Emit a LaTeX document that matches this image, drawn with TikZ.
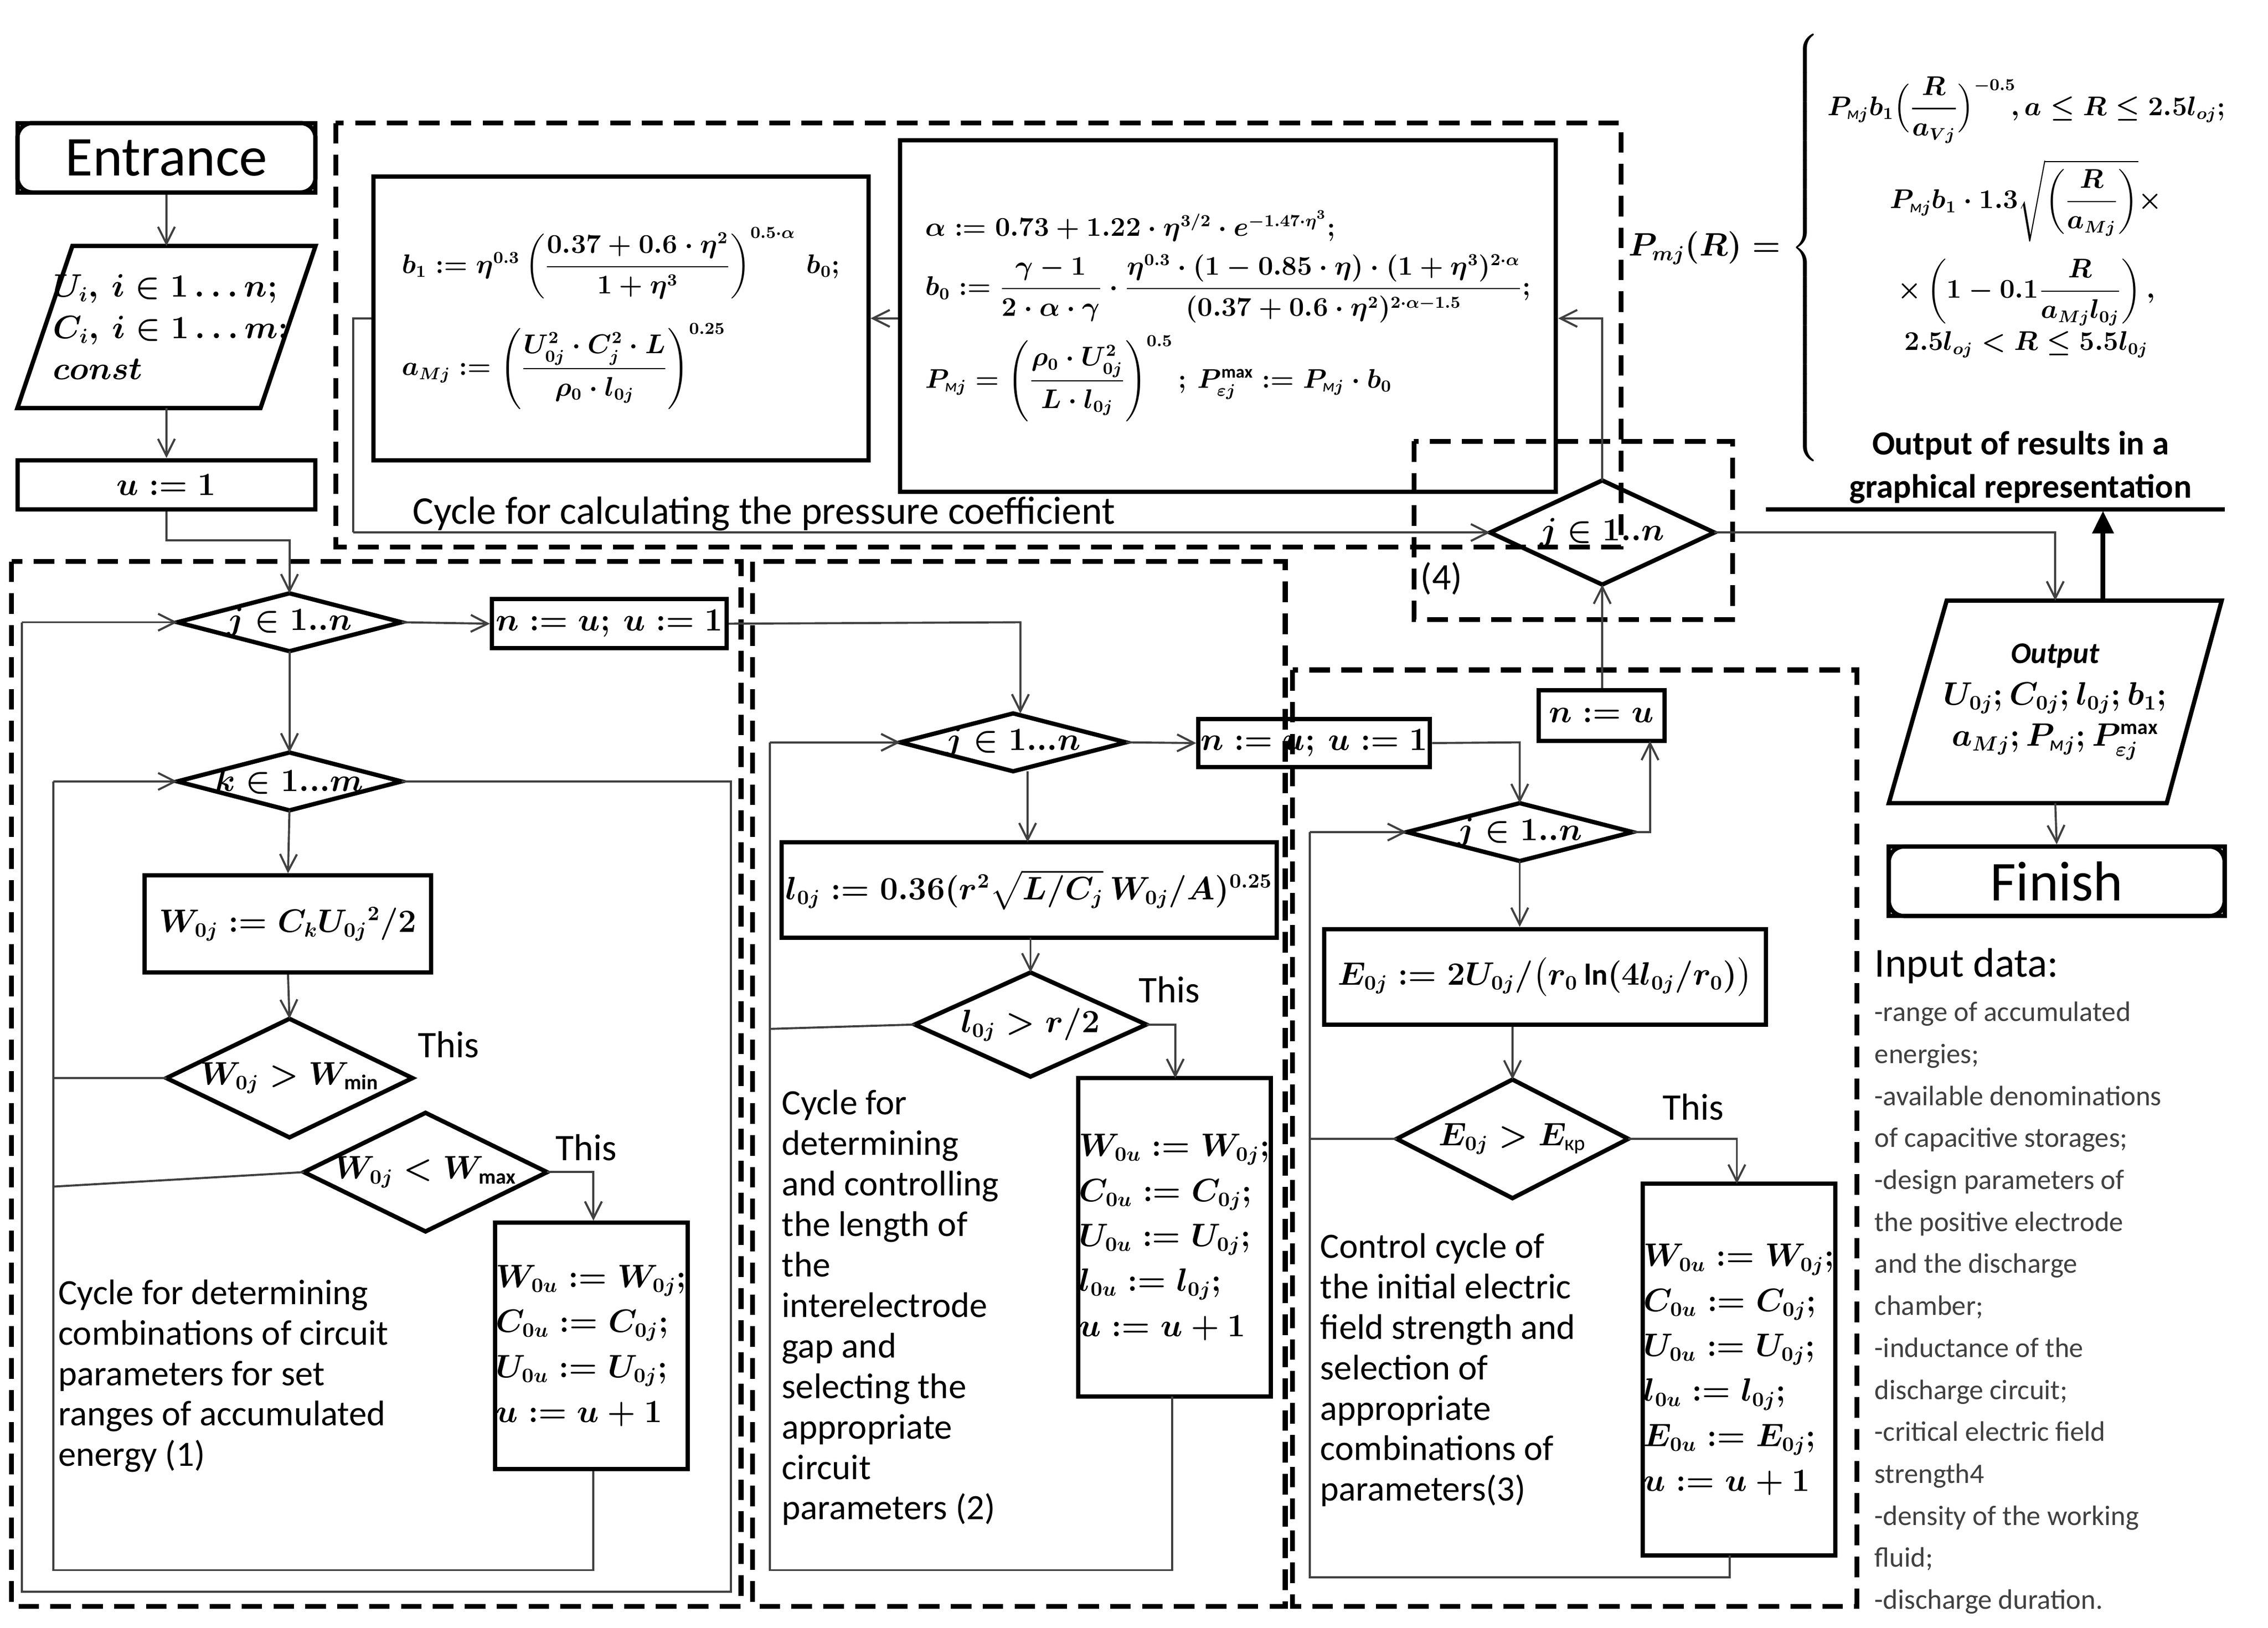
\documentclass[tikz,border=0pt]{standalone}
\usepackage{amsmath}
\usepackage{fontspec}
\setmainfont{Carlito}
\usetikzlibrary{calc,arrows.meta,fit}
\newcommand\mM{\text{\itshape м}}
\newcommand\dia[6]{%
 \node[inner sep=0,font=\mfont] (#1) at (#2,#3) {#6};
 \coordinate (#1-l) at ({#2-#4/2},#3);
 \coordinate (#1-r) at ({#2+#4/2},#3);
 \coordinate (#1-t) at (#2,{#3-#5/2});
 \coordinate (#1-b) at (#2,{#3+#5/2});
 \draw[box] (#1-l)--(#1-t)--(#1-r)--(#1-b)--cycle;}
\newcommand\bx[7]{%
 \node[box,fit={(#2,#3)(#4,#5)}] (#1) {};
 \node[inner sep=0,#6] (#1-txt) at (#1.center) {#7};}
\newcommand\mfont{\fontsize{16}{20}\selectfont\boldmath}
\newcommand\sfont{\fontsize{13.5}{17}\selectfont\boldmath}
\begin{document}
\begin{tikzpicture}[x=0.02713cm,y=-0.02713cm,
 box/.style={draw,line width=2.3pt,inner sep=0pt},
 conn/.style={line width=1.1pt,draw=black!75},
 arr/.style={conn,-{Straight Barb[length=9pt,width=9pt]}},
 dsh/.style={line width=2.6pt,dash pattern=on 11pt off 6pt},
 txt/.style={font=\fontsize{19}{21.6}\selectfont,align=left,inner sep=0,anchor=north west},
 mt/.style={font=\mfont,align=left},
 st/.style={font=\sfont,align=left}]
\useasboundingbox (0,0) rectangle (1567,1125);
% dashed frames
\draw[dsh] (232,85) rectangle (1120,378);
\draw[dsh] (8,388) rectangle (512,1110);
\draw[dsh] (520,388) rectangle (888,1110);
\draw[dsh] (893,463) rectangle (1283,1110);
\draw[dsh] (977,305) rectangle (1197,428);
% entrance etc
\bx{ent}{12}{85}{218}{133}{font=\fontsize{30}{32}\selectfont}{Entrance}
\draw[box,rounded corners=8pt] (12,85) rectangle (218,133);
\draw[box] (50,170)--(218,170)--(180,282)--(12,282)--cycle;
\coordinate (inpt) at (115,170); \coordinate (inpb) at (115,282);
\node[font=\mfont,align=left] (inp) at (118,226) {$U_i,\ i\in1\ldots n;$\\[2pt]$C_i,\ i\in1\ldots m;$\\[2pt]$const$};
\bx{u1}{12}{318}{218}{352}{mt}{$u:=1$}
\draw[arr] (ent.south) -- (inpt);
\draw[arr] (inpb) -- (u1.north);
% section 1
\dia{d1}{200}{430}{155}{40}{$j\in1..n$}
\dia{dk}{200}{540}{155}{40}{$k\in1...m$}
\draw[arr] (u1.south) -- ++(0,20) -| (d1-t);
\bx{nu1}{340}{414}{502}{448}{mt}{$n:=u;\ u:=1$}
\draw[arr] (d1-r) -- (nu1.west);
\draw[arr] (d1-b) -- (dk-t);
\draw[conn] (dk-r) -- (505,540) -- (505,1100) -- (15,1100) -- (15,430);
\draw[arr] (15,430) -- (d1-l);
\bx{w1}{100}{605}{298}{672}{mt}{$W_{0j}:=C_kU_{0j}{}^2/2$}
\draw[arr] (dk-b) -- (w1.north);
\dia{dmin}{200}{745}{170}{82}{$W_{0j}>W_{\min}$}
\dia{dmax}{294}{810}{168}{82}{$W_{0j}<W_{\max}$}
\draw[arr] (w1.south) -- (dmin-t);
\bx{a1}{342}{845}{475}{1015}{mt}{$W_{0u}:=W_{0j};$\\[4pt]$C_{0u}:=C_{0j};$\\[4pt]$U_{0u}:=U_{0j};$\\[4pt]$u:=u+1$}
\draw[conn] (a1.south -| 410,0) -- (410,1085) -- (37,1085) -- (37,540);
\draw[arr] (37,540) -- (dk-l);
\draw[conn] (dmin-l) -- (37,745);
\draw[conn] (dmax-l) -- (37,820);
\draw[arr] (dmax-r) -- (410,810) -- (a1.north -| 410,0);
\node[font=\fontsize{20}{22}\selectfont] at (310,722) {This};
\node[font=\fontsize{20}{22}\selectfont] at (405,793) {This};
\node[txt] at (40,884) {Cycle for determining\\combinations of circuit\\parameters for set\\ranges of accumulated\\energy (1)};
% section 2
\dia{d2}{700}{513}{156}{40}{$j\in1...n$}
\draw[arr] (nu1.east) -- (705,430) -- (705,493);
\bx{nu2}{828}{497}{988}{530}{mt}{$n:=u;\ u:=1$}
\draw[arr] (d2-r) -- (nu2.west);
\bx{l1}{540}{582}{882}{648}{mt}{$l_{0j}:=0.36(r^2\sqrt{L/C_j}\,W_{0j}/A)^{0.25}$}
\draw[arr] (710,533) -- (710,582);
\dia{dl}{712}{708}{160}{72}{$l_{0j}>r/2$}
\draw[arr] (712,648) -- (dl-t);
\bx{a2}{745}{745}{878}{965}{mt}{$W_{0u}:=W_{0j};$\\[4pt]$C_{0u}:=C_{0j};$\\[4pt]$U_{0u}:=U_{0j};$\\[4pt]$l_{0u}:=l_{0j};$\\[4pt]$u:=u+1$}
\draw[arr] (dl-r) -- (812,708) -- (812,745);
\node[font=\fontsize{20}{22}\selectfont] at (808,684) {This};
\draw[conn] (810,965) -- (810,1085) -- (532,1085) -- (532,513);
\draw[arr] (532,513) -- (d2-l);
\draw[conn] (dl-l) -- (532,711);
\node[txt] at (540,753) {Cycle for\\determining\\and controlling\\the length of\\the\\interelectrode\\gap and\\selecting the\\appropriate\\circuit\\parameters (2)};
% section 3
\dia{d3}{1050}{575}{156}{40}{$j\in1..n$}
\draw[arr] (nu2.east) -- (1050,513) -- (d3-t);
\bx{nu3}{1063}{477}{1150}{512}{mt}{$n:=u$}
\draw[arr] (d3-r) -- (1140,575) -- (1140,512);
\bx{e1}{915}{642}{1220}{708}{mt}{$E_{0j}:=2U_{0j}/\bigl(r_0\ln(4l_{0j}/r_0)\bigr)$}
\draw[arr] (d3-b) -- (e1.north -| 1050,0);
\dia{de}{1045}{787}{160}{82}{$E_{0j}>E_{\text{кр}}$}
\draw[arr] (e1.south -| 1045,0) -- (de-t);
\bx{a3}{1135}{818}{1268}{1075}{mt}{$W_{0u}:=W_{0j};$\\[4pt]$C_{0u}:=C_{0j};$\\[4pt]$U_{0u}:=U_{0j};$\\[4pt]$l_{0u}:=l_{0j};$\\[4pt]$E_{0u}:=E_{0j};$\\[4pt]$u:=u+1$}
\draw[arr] (de-r) -- (1200,787) -- (1200,818);
\node[font=\fontsize{20}{22}\selectfont] at (1170,765) {This};
\draw[conn] (1195,1075) -- (1195,1090) -- (905,1090) -- (905,575);
\draw[arr] (905,575) -- (d3-l);
\draw[conn] (de-l) -- (905,787);
\node[txt] at (912,852) {Control cycle of\\the initial electric\\field strength and\\selection of\\appropriate\\combinations of\\parameters(3)};
% section 4 / pressure cycle
\dia{d4}{1107}{368}{155}{72}{$j\in1..n$}
\draw[arr] (nu3.north -| 1107,0) -- (d4-b);
\node[font=\fontsize{20}{22}\selectfont] at (996,400) {(4)};
\bx{pb}{622}{97}{1075}{340}{st}{$\alpha:=0.73+1.22\cdot\eta^{3/2}\cdot e^{-1.47\cdot\eta^3};$\\[6pt]
$b_0:=\dfrac{\gamma-1}{2\cdot\alpha\cdot\gamma}\cdot\dfrac{\eta^{0.3}\cdot(1-0.85\cdot\eta)\cdot(1+\eta^3)^{2\cdot\alpha}}{(0.37+0.6\cdot\eta^2)^{2\cdot\alpha-1.5}};$\\[6pt]
$P_{\mM j}=\left(\dfrac{\rho_0\cdot U_{0j}^2}{L\cdot l_{0j}}\right)^{0.5};\ P^{\max}_{\varepsilon j}:=P_{\mM j}\cdot b_0$}
\bx{b1}{258}{122}{600}{318}{st}{$b_1:=\eta^{0.3}\left(\dfrac{0.37+0.6\cdot\eta^2}{1+\eta^3}\right)^{0.5\cdot\alpha}\ b_0;$\\[12pt]
$a_{Mj}:=\left(\dfrac{U_{0j}^2\cdot C_j^2\cdot L}{\rho_0\cdot l_{0j}}\right)^{0.25}$}
\draw[arr] (d4-t) -- (1107,220) -- (pb.east |- 0,220);
\draw[arr] (pb.west |- 0,220) -- (b1.east |- 0,220);
\draw[conn] (b1.west |- 0,220) -- (244,220) -- (244,368);
\draw[arr] (244,368) -- (d4-l);
\node[font=\fontsize{21}{24}\selectfont,anchor=west,inner sep=0] at (285,355) {Cycle for calculating the pressure coefficient};
% output
\draw[box] (1345,415)--(1535,415)--(1497,555)--(1305,555)--cycle;
\coordinate (outt) at (1420,415); \coordinate (outb) at (1420,555);
\node[font=\mfont,align=center] (outp) at (1420,485) {\textbf{\itshape Output}\\[2pt]$U_{0j};C_{0j};l_{0j};b_1;$\\[2pt]$a_{Mj};P_{\mM j};P^{\max}_{\varepsilon j}$};
\draw[arr] (d4-r) -- (1420,368) -- (outt);
\bx{fin}{1305}{585}{1537}{633}{font=\fontsize{30}{32}\selectfont}{Finish}
\draw[box,rounded corners=8pt] (1305,585) rectangle (1537,633);
\draw[arr] (outb) -- (fin.north);
\coordinate (gl) at (1220,352); \coordinate (gr) at (1537,352);
\draw[line width=2.5pt] (gl) -- (gr);
\draw[line width=2.5pt,-{Triangle[length=12pt,width=11pt]}] (1453,415) -- (1453,353);
\node[font=\fontsize{18}{23}\selectfont\bfseries,align=center] at (1396,323) {Output of results in a\\graphical representation};
\node[font=\mfont,anchor=west,inner sep=0] at (1125,172) {$P_{mj}(R)=\left\{\vrule height 3.9cm depth 3.9cm width 0pt\right.$};
\node[font=\sfont,align=center] at (1400,150) {%
$P_{\mM j}b_1\Bigl(\dfrac{R}{a_{Vj}}\Bigr)^{-0.5}\!,a\le R\le2.5l_{oj};$\\[8pt]
$P_{\mM j}b_1\cdot1.3\sqrt{\left(\dfrac{R}{a_{Mj}}\right)}\times$\\[8pt]
$\times\left(1-0.1\dfrac{R}{a_{Mj}l_{0j}}\right),$\\[2pt]
$2.5l_{oj}<R\le5.5l_{0j}$};
% input data
\node[txt,font=\fontsize{22}{24}\selectfont] at (1295,655) {Input data:};
\node[txt,font=\fontsize{15}{22.4}\selectfont,text=black!75] at (1295,692) {-range of accumulated\\energies;\\-available denominations\\of capacitive storages;\\-design parameters of\\the positive electrode\\and the discharge\\chamber;\\-inductance of the\\discharge circuit;\\-critical electric field\\strength4\\-density of the working\\fluid;\\-discharge duration.};
\end{tikzpicture}
\end{document}
